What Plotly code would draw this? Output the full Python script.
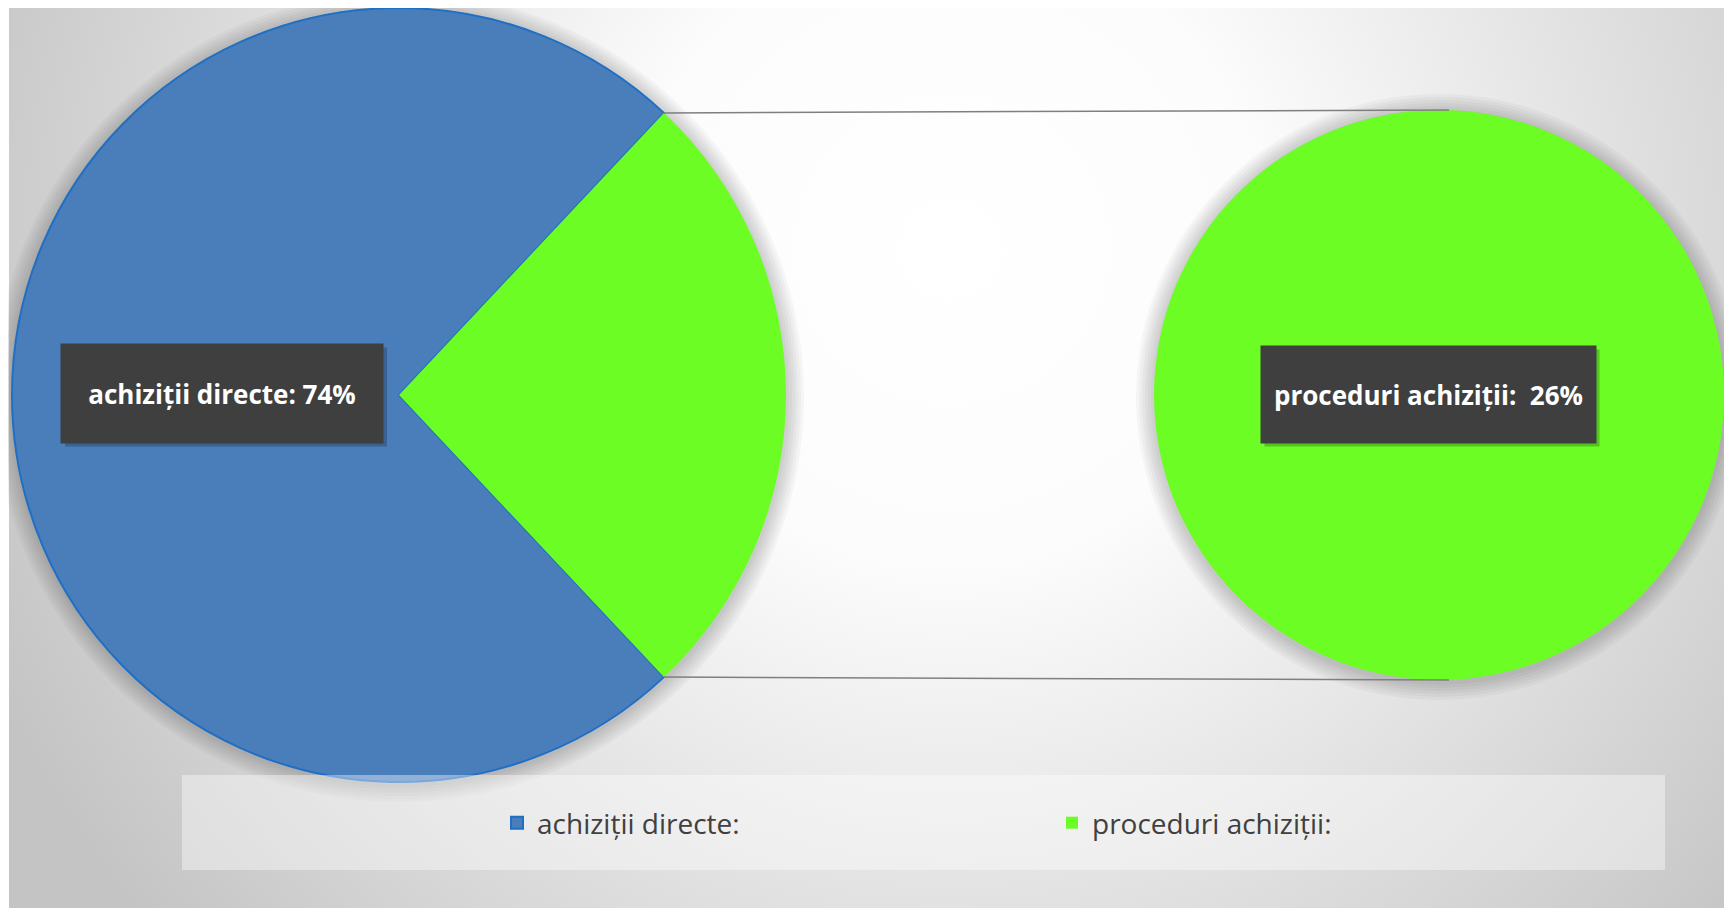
import base64
import math
import plotly.graph_objects as go

# ---------------- data ----------------
labels = ["achiziții directe:", "proceduri achiziții:"]
values = [74, 26]
colors = ["#4A7EBB", "#6BFD24"]
line_colors = ["#1F6FC5", "#6BFD24"]
label_sep = [" ", "\u00a0\u00a0"]

# ---------------- geometry (screen px; page body adds an 8px offset) ----------------
OFF = 8
W, H = 1716, 900
cx1, cy1, r1 = 399, 395, 387     # main pie (screen coords)
cx2, cy2, r2 = 1439, 395, 285    # secondary pie (screen coords)


def px(x):
    return (x - OFF) / W


def py(y):
    return 1 - (y - OFF) / H


def dom(cx, cy, r):
    return dict(x=[max(0, px(cx - r)), min(1, px(cx + r))],
                y=[max(0, py(cy + r)), min(1, py(cy - r))])


share = values[1] / sum(values)
half = share * 180.0                     # half angle of the split slice (deg)
rotation = ((90 - half) - (1 - share) * 360) % 360

fig = go.Figure()

fig.add_trace(go.Pie(
    labels=labels, values=values, sort=False, direction="clockwise",
    rotation=rotation, textinfo="none", hoverinfo="skip",
    marker=dict(colors=colors, line=dict(color=line_colors, width=[2, 0])),
    domain=dom(cx1, cy1, r1), showlegend=True,
))

fig.add_trace(go.Pie(
    labels=[labels[1]], values=[values[1]], sort=False, textinfo="none",
    hoverinfo="skip", marker=dict(colors=[colors[1]], line=dict(width=0)),
    domain=dom(cx2, cy2, r2), showlegend=False,
))

# ---------------- background gradient ----------------
gx, gy = 950 - OFF, 250 - OFF
svg = (f'<svg xmlns="http://www.w3.org/2000/svg" width="{W}" height="{H}" '
       f'viewBox="0 0 {W} {H}" preserveAspectRatio="none"><defs>'
       f'<radialGradient id="g" cx="{gx}" cy="{gy}" r="1050" gradientUnits="userSpaceOnUse">'
       f'<stop offset="0" stop-color="#ffffff"/><stop offset="0.3" stop-color="#fcfcfc"/>'
       f'<stop offset="0.75" stop-color="#d8d8d8"/>'
       f'<stop offset="1" stop-color="#c4c4c4"/></radialGradient></defs>'
       f'<rect width="{W}" height="{H}" fill="url(#g)"/>'
       f'<rect width="1" height="{H}" fill="#ffffff"/></svg>')
src = "data:image/svg+xml;base64," + base64.b64encode(svg.encode()).decode()

shapes = []
# soft shadows under the pies
for (cx, cy, r) in [(cx1, cy1, r1), (cx2, cy2, r2)]:
    for k in range(1, 7):
        e = 3 * k
        shapes.append(dict(type="circle", xref="paper", yref="paper", layer="below",
                           x0=px(cx - r - e), x1=px(cx + r + e),
                           y0=py(cy + r + e + 2), y1=py(cy - r - e + 2),
                           fillcolor="rgba(0,0,0,0.03)", line=dict(width=0)))

# connector lines
hx = r1 * math.cos(math.radians(half))
hy = r1 * math.sin(math.radians(half))
for sgn in (-1, 1):
    shapes.append(dict(type="line", xref="paper", yref="paper", layer="above",
                       x0=px(cx1 + hx), y0=py(cy1 + sgn * hy),
                       x1=px(cx2 + 10), y1=py(cy2 + sgn * r2),
                       line=dict(color="#7F7F7F", width=1.5)))

# legend panel
shapes.append(dict(type="rect", xref="paper", yref="paper", layer="above",
                   x0=px(182), x1=px(1665), y0=py(870), y1=py(775),
                   fillcolor="rgba(255,255,255,0.4)", line=dict(width=0)))

# ---------------- data labels ----------------
annotations = []
label_pos = [(222, 393, 322, 99), (1428, 394, 335, 97)]
for i, (x, y, bw, bh) in enumerate(label_pos):
    # drop shadow of the label box
    shapes.append(dict(type="rect", xref="paper", yref="paper", layer="above",
                       x0=px(x - bw / 2 + 4), x1=px(x + bw / 2 + 4),
                       y0=py(y + bh / 2 + 4), y1=py(y - bh / 2 + 4),
                       fillcolor="rgba(0,0,0,0.22)", line=dict(width=0)))
    txt = f"<b>{labels[i]}{label_sep[i]}{values[i]}%</b>"
    annotations.append(dict(x=px(x), y=py(y), xref="paper", yref="paper", showarrow=False,
                            width=bw - 2, height=bh - 2, borderpad=1,
                            xanchor="center", yanchor="middle", text=txt, bgcolor="#3F3F3F",
                            font=dict(color="#FFFFFF", size=26, family="Open Sans")))

fig.update_layout(
    width=W, height=H, margin=dict(l=0, r=0, t=0, b=0),
    paper_bgcolor="#FFFFFF", plot_bgcolor="rgba(0,0,0,0)",
    images=[dict(source=src, xref="paper", yref="paper", x=0, y=1, sizex=1, sizey=1,
                 xanchor="left", yanchor="top", sizing="stretch", layer="below")],
    shapes=shapes, annotations=annotations,
    legend=dict(orientation="h", x=px(497), y=py(823), xanchor="left", yanchor="middle",
                bgcolor="rgba(0,0,0,0)", font=dict(family="Open Sans", size=28, color="#404040"),
                entrywidth=510, entrywidthmode="pixels", traceorder="normal"),
)

fig.write_html("out.html")
